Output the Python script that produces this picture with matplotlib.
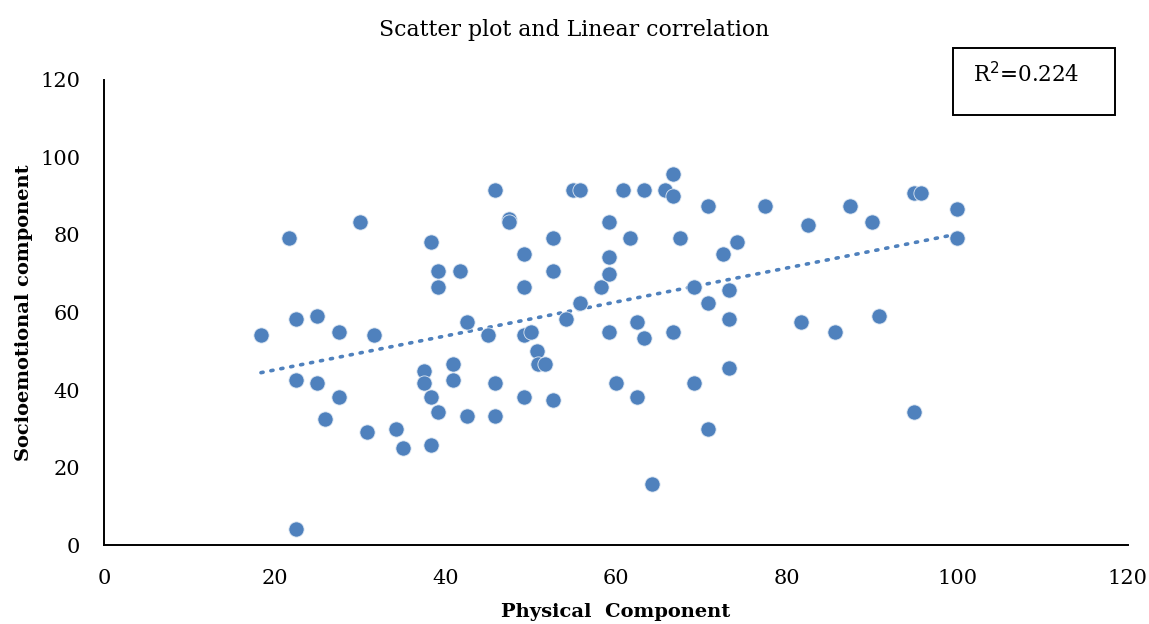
import numpy as np
import matplotlib
matplotlib.use('Agg')
import matplotlib.pyplot as plt
from matplotlib.patches import Rectangle

# values
physical = [18.4, 21.7, 22.5, 22.5, 22.5, 25.0, 25.0, 25.9, 27.5, 27.5,
            30.0, 30.8, 31.7, 34.2, 35.0, 37.5, 37.5, 38.3, 38.3, 38.3,
            39.2, 39.2, 39.2, 40.9, 40.9, 41.7, 42.5, 42.5, 45.0, 45.8,
            45.8, 45.8, 47.5, 47.5, 49.2, 49.2, 49.2, 49.2, 50.1, 50.7,
            50.9, 51.7, 52.6, 52.6, 52.6, 54.2, 55.0, 55.8, 55.8, 58.3,
            59.2, 59.2, 59.2, 59.2, 60.0, 60.8, 61.7, 62.5, 62.5, 63.3,
            63.3, 64.2, 65.8, 66.7, 66.7, 66.7, 67.5, 69.2, 69.2, 70.8,
            70.8, 70.8, 72.5, 73.3, 73.3, 73.3, 74.2, 77.5, 81.7, 82.5,
            85.7, 87.5, 90.0, 90.8, 95.0, 95.8, 95.0, 100.0, 100.0]
socio = [54.2, 79.2, 58.3, 42.5, 4.2, 59.2, 41.7, 32.5, 55.0, 38.3,
         83.3, 29.2, 54.2, 30.0, 25.0, 45.0, 41.7, 78.3, 38.3, 25.8,
         70.8, 66.7, 34.2, 46.7, 42.5, 70.8, 57.5, 33.3, 54.2, 91.7,
         41.7, 33.3, 84.2, 83.3, 75.0, 66.7, 54.2, 38.3, 55.0, 50.0,
         46.7, 46.7, 79.2, 70.8, 37.5, 58.3, 91.7, 91.7, 62.5, 66.7,
         83.3, 74.2, 70.0, 55.0, 41.7, 91.7, 79.2, 57.5, 38.3, 91.7,
         53.3, 15.8, 91.7, 95.8, 90.0, 55.0, 79.2, 66.7, 41.7, 87.5,
         62.5, 30.0, 75.0, 65.8, 58.3, 45.8, 78.3, 87.5, 57.5, 82.5,
         55.0, 87.5, 83.3, 59.2, 90.8, 90.8, 34.2, 86.7, 79.2]
x_ticks = [0, 20, 40, 60, 80, 100, 120]
y_ticks = [0, 20, 40, 60, 80, 100, 120]
r2_text = 'R$^2$=0.224'

blue = '#4F81BD'
plt.rcParams['font.family'] = 'DejaVu Serif'

fig = plt.figure(figsize=(11.49, 6.24), dpi=100)
ax = fig.add_axes([0.0905, 0.1266, 0.891, 0.7452])

ax.scatter(physical, socio, s=120, color=blue, edgecolors='#dfe8f3',
           linewidths=0.6, zorder=3)

# linear trend line (least squares) over the data range
coef = np.polyfit(physical, socio, 1)
xs = np.array([min(physical), max(physical)])
ax.plot(xs, np.polyval(coef, xs), color=blue, lw=2.6,
        linestyle=(0, (0.6, 2.2)), dash_capstyle='round', zorder=2)

ax.set_xlim(0, 120)
ax.set_ylim(0, 120)
ax.set_xticks(x_ticks)
ax.set_yticks(y_ticks)
ax.tick_params(length=0, labelsize=15)
ax.tick_params(axis='y', pad=17)
ax.tick_params(axis='x', pad=17)
for s in ['top', 'right']:
    ax.spines[s].set_visible(False)
for s in ['left', 'bottom']:
    ax.spines[s].set_linewidth(1.4)
    ax.spines[s].set_color('black')

ax.set_xlabel('Physical  Component', fontsize=14, fontweight='bold', labelpad=11)
ax.set_ylabel('Socioemotional component', fontsize=14, fontweight='bold', labelpad=5)
fig.text(0.5, 0.952, 'Scatter plot and Linear correlation', ha='center',
         va='center', fontsize=15.8)

# R² box
fig.patches.append(Rectangle((0.829, 0.816), 0.141, 0.107, transform=fig.transFigure,
                             fill=False, edgecolor='black', lw=1.4))
fig.text(0.847, 0.88, r2_text, ha='left', va='center', fontsize=15.5)

fig.savefig('out.png', dpi=100)
